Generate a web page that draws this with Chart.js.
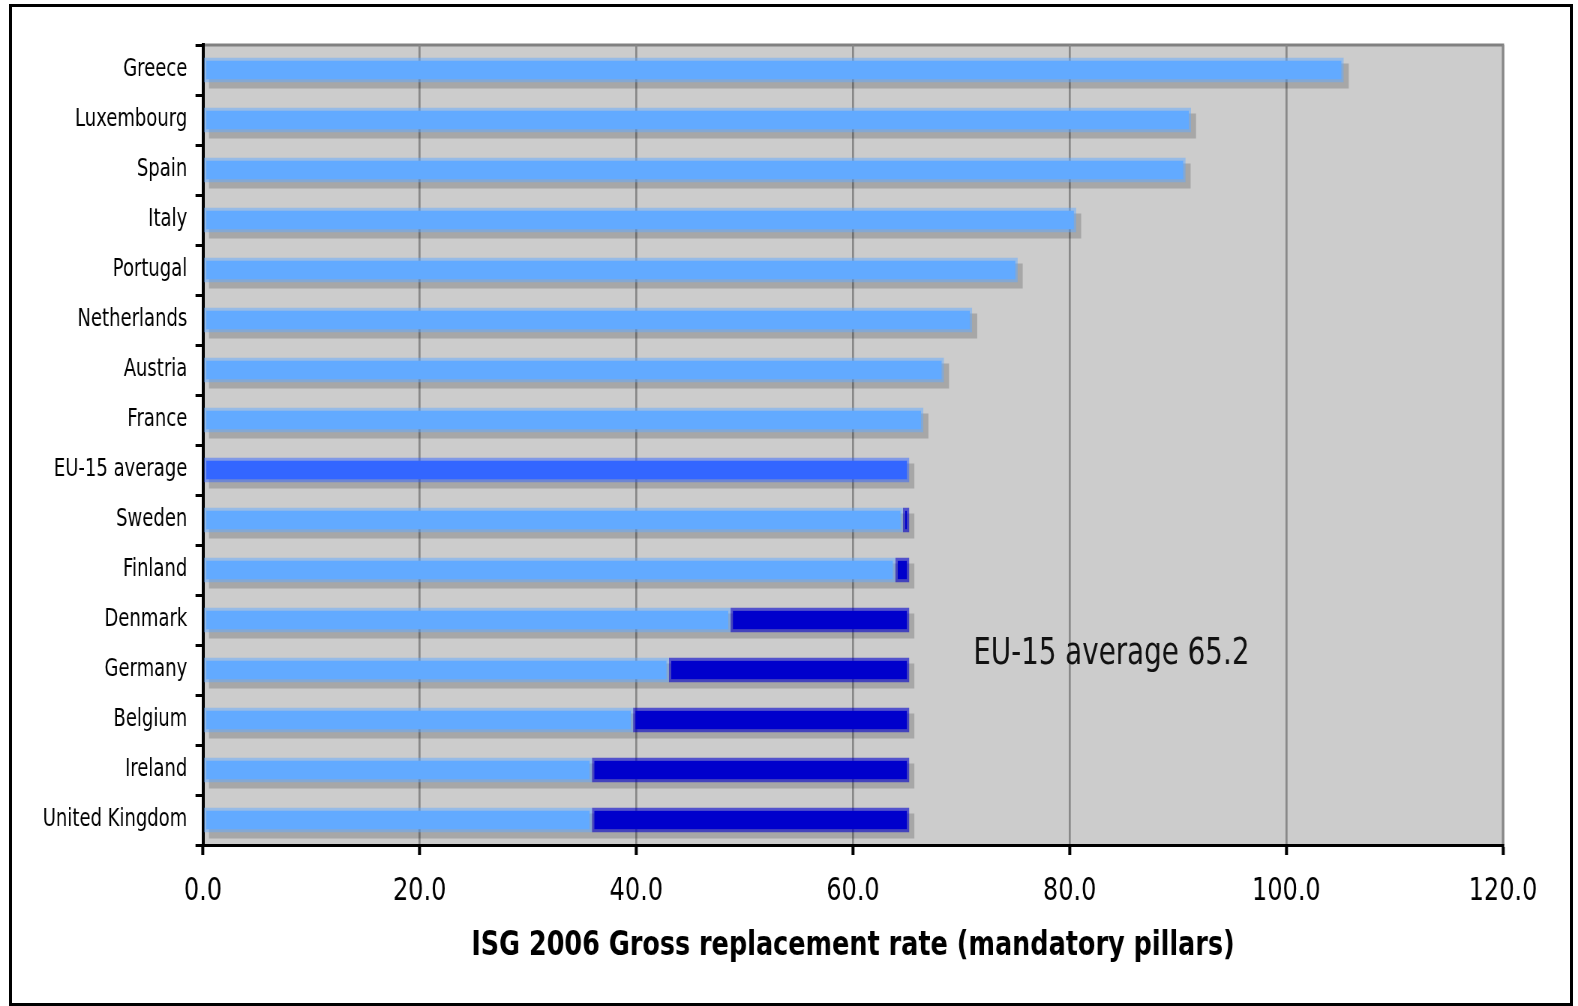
<!DOCTYPE html>
<html>
<head>
<meta charset="utf-8">
<script src="https://cdn.jsdelivr.net/npm/chart.js@4.4.1/dist/chart.umd.min.js"></script>
<style>
  html, body { margin: 0; padding: 0; background: #fff; overflow: hidden; }
  /* chart is drawn wide and squeezed horizontally, like the narrow fonts of the original */
  #wrap { position: absolute; left: 0; top: 0; width: 2104px; height: 1006px; transform: scaleX(0.75); transform-origin: 0 0; }
  #frame { position: absolute; left: 9px; top: 4px; width: 1564px; height: 1002px; border: 3px solid #000; box-sizing: border-box; pointer-events: none; }
</style>
</head>
<body>
<div id="wrap"><canvas id="rate-chart"></canvas></div>
<div id="frame"></div>
<script>
// Set up the chart data
var countries = ['Greece', 'Luxembourg', 'Spain', 'Italy', 'Portugal', 'Netherlands', 'Austria', 'France',
    'EU-15 average', 'Sweden', 'Finland', 'Denmark', 'Germany', 'Belgium', 'Ireland', 'United Kingdom'];

var rates = [105.3, 91.2, 90.7, 80.6, 75.2, 71.0, 68.4, 66.5, 65.2, 64.6, 63.9, 48.7, 43.0, 39.7, 35.9, 35.9];  // gross replacement rate

var euAverage = 65.2;
var averageLabel = 'EU-15 average 65.2';
var axisTitle = 'ISG 2006 Gross replacement rate (mandatory pillars)';

var S = 0.75; // horizontal squeeze of #wrap

// gap from each country below the average up to the average
var gapBars = rates.map(function (r, i) {
    return (countries[i] !== 'EU-15 average' && r < euAverage) ? [r, euAverage] : null;
});

var rateColors = countries.map(function (c) { return c === 'EU-15 average' ? '#3366ff' : '#62aaff'; });
var rateBorders = countries.map(function (c) { return c === 'EU-15 average' ? 'rgba(51,102,255,0.5)' : 'rgba(98,170,255,0.5)'; });

// gray plot background with gray frame
var plotBackground = {
    id: 'plotBackground',
    beforeDraw: function (chart) {
        var a = chart.chartArea, ctx = chart.ctx;
        ctx.save();
        ctx.fillStyle = '#cccccc';
        ctx.fillRect(a.left, a.top, a.right - a.left, a.bottom - a.top);
        ctx.strokeStyle = '#808080';
        ctx.lineWidth = 3;
        ctx.beginPath();
        ctx.moveTo(a.left, a.top);
        ctx.lineTo(a.right, a.top);
        ctx.lineTo(a.right, a.bottom);
        ctx.stroke();
        ctx.restore();
    }
};

// drop shadow under every bar
var barShadow = {
    id: 'barShadow',
    beforeDatasetsDraw: function (chart) {
        var ctx = chart.ctx;
        ctx.save();
        ctx.fillStyle = 'rgba(0,0,0,0.18)';
        ctx.beginPath();
        chart.data.datasets.forEach(function (ds, di) {
            chart.getDatasetMeta(di).data.forEach(function (el, i) {
                if (ds.data[i] === null) return;
                var p = el.getProps(['x', 'y', 'base', 'height'], true);
                ctx.rect(Math.min(p.x, p.base) + 6.7, p.y - p.height / 2 + 6, Math.abs(p.x - p.base), p.height);
            });
        });
        ctx.fill();
        ctx.restore();
    }
};

// the "EU-15 average 65.2" note
var averageNote = {
    id: 'averageNote',
    afterDatasetsDraw: function (chart) {
        var ctx = chart.ctx;
        ctx.save();
        ctx.font = '37px "DejaVu Sans"';
        ctx.fillStyle = '#111';
        ctx.textAlign = 'left';
        ctx.textBaseline = 'middle';
        ctx.fillText(averageLabel, chart.scales.x.getPixelForValue(71.1), chart.scales.y.getPixelForValue(11.68));
        ctx.restore();
    }
};

var ctx = document.getElementById('rate-chart').getContext('2d');

var rateChart = new Chart(ctx, {
    type: 'bar',
    data: {
        labels: countries,
        datasets: [{
            label: 'Gross replacement rate',
            data: rates,
            backgroundColor: rateColors,
            borderColor: rateBorders,
            borderWidth: 3,
            borderSkipped: false,
            grouped: false,
            barPercentage: 0.5,
            categoryPercentage: 1
        }, {
            label: 'Gap to EU-15 average',
            data: gapBars,
            backgroundColor: '#0000cc',
            borderColor: 'rgba(0,0,204,0.6)',
            borderWidth: 3,
            borderSkipped: false,
            grouped: false,
            barPercentage: 0.5,
            categoryPercentage: 1
        }]
    },
    options: {
        indexAxis: 'y',
        responsive: true,
        maintainAspectRatio: false,
        devicePixelRatio: 1,
        animation: false,
        layout: { padding: { left: 0, right: 100, top: 45, bottom: 0 } },
        scales: {
            x: {
                min: 0,
                max: 120,
                ticks: {
                    stepSize: 20,
                    padding: 17,
                    color: '#000',
                    font: { family: 'DejaVu Sans', size: 32 },
                    callback: function (v) { return v.toFixed(1); }
                },
                grid: { color: '#888', lineWidth: 2.7, tickColor: '#000', tickWidth: 4, tickLength: 10 },
                border: { color: '#000', width: 3 },
                title: {
                    display: true,
                    text: axisTitle,
                    color: '#000',
                    font: { family: 'DejaVu Sans', size: 34, weight: 'bold' },
                    padding: { top: 0, bottom: 39 }
                },
                afterFit: function (scale) { scale.height = 161; }
            },
            y: {
                ticks: {
                    padding: 11,
                    color: '#000',
                    font: { family: 'DejaVu Sans', size: 24 }
                },
                grid: { drawOnChartArea: false, offset: true, tickColor: '#000', tickWidth: 3, tickLength: 10 },
                border: { color: '#000', width: 4 },
                afterFit: function (scale) { scale.width = 203 / S; }
            }
        },
        plugins: {
            legend: { display: false },
            tooltip: { enabled: false }
        }
    },
    plugins: [plotBackground, barShadow, averageNote]
});
</script>
</body>
</html>
